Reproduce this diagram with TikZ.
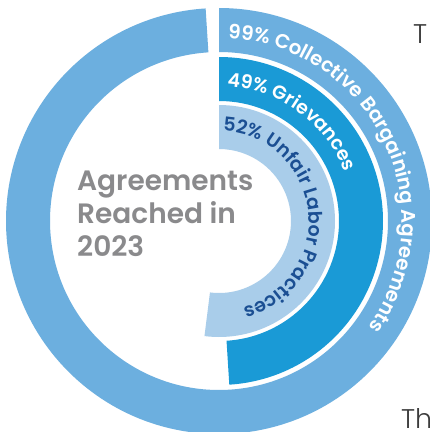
\documentclass[tikz,border=0pt]{standalone}
\usepackage{fontspec}
\setmainfont{Poppins}
\newfontfamily\psemi{Poppins SemiBold}
\newfontfamily\plight{Poppins Light}
\usetikzlibrary{calc,decorations.text}
\definecolor{outerc}{HTML}{6CAFDF}
\definecolor{midc}{HTML}{1A9AD6}
\definecolor{innerc}{HTML}{A9CDEA}
\definecolor{darkb}{HTML}{1B4F93}
\definecolor{graytxt}{HTML}{8A8A8C}
\definecolor{sidetxt}{HTML}{3C3C3C}
\begin{document}
\begin{tikzpicture}[x=1pt,y=-1pt,
  ringout/.style={fill=outerc},
  ringmid/.style={fill=midc},
  ringin/.style={fill=innerc},
  sidelabel/.style={font=\plight\fontsize{27}{27}\selectfont, text=sidetxt, anchor=base west, inner sep=0pt},
  title/.style={font=\psemi\fontsize{28}{33}\selectfont, text=graytxt, align=left, anchor=base west, inner sep=0pt}]
\clip (0,0) rectangle (430,432);
\fill[white] (0,0) rectangle (430,432);
\coordinate (c) at (219,221);
% outer ring 99%
\fill[ringout] ($(c)+(90:213pt)$) arc[start angle=90, end angle=-266.4, radius=213pt]
  -- ($(c)+(-266.4:169pt)$) arc[start angle=-266.4, end angle=90, radius=169pt] -- cycle;
% middle ring 49%
\fill[ringmid] ($(c)+(90:164pt)$) arc[start angle=90, end angle=-86.4, radius=164pt]
  -- ($(c)+(-86.4:120pt)$) arc[start angle=-86.4, end angle=90, radius=120pt] -- cycle;
% inner ring 52%
\fill[ringin] ($(c)+(90:116pt)$) arc[start angle=90, end angle=-97.2, radius=116pt]
  -- ($(c)+(-97.2:72pt)$) arc[start angle=-97.2, end angle=90, radius=72pt] -- cycle;
% arc labels
\path[decorate, decoration={text along path, text align=left,
  text={|\psemi\fontsize{19.8}{19.8}\selectfont\color{white}|99{\%} Collective Bargaining Agreements}}]
  ($(c)+(87.2:183pt)$) arc[start angle=87.2, end angle=-90, radius=183pt];
\path[decorate, decoration={text along path, text align=left,
  text={|\psemi\fontsize{19}{19}\selectfont\color{white}|49{\%} Grievances}}]
  ($(c)+(86.6:135pt)$) arc[start angle=86.6, end angle=-60, radius=135pt];
\path[decorate, decoration={text along path, text align=left,
  text={|\psemi\fontsize{19}{19}\selectfont\color{darkb}|52{\%} Unfair Labor Practices}}]
  ($(c)+(87.5:90pt)$) arc[start angle=87.5, end angle=-120, radius=90pt];
% centre title
\node[title] (ttl) at (77,256) {Agreements\\Reached in\\2023};
% cut-off side texts
\node[sidelabel] (t1) at (413,43) {T};
\node[sidelabel] (t2) at (401,428) {Th};
\end{tikzpicture}
\end{document}
